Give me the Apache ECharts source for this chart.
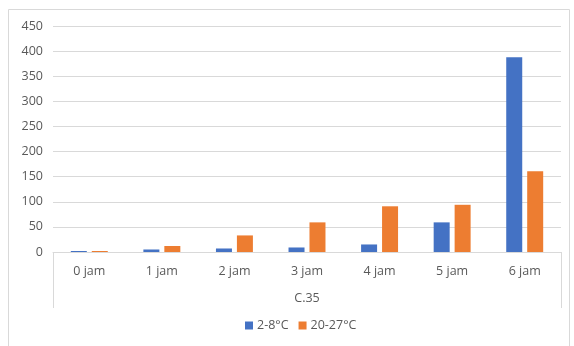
<!DOCTYPE html>
<html>
<head>
<meta charset="utf-8">
<script src="https://cdn.jsdelivr.net/npm/echarts@6/dist/echarts.min.js"></script>
<style>html,body{margin:0;padding:0;background:#fff}#c{width:574px;height:346px}</style>
</head>
<body>
<div id="c"></div>
<script>
const categories = ['0 jam','1 jam','2 jam','3 jam','4 jam','5 jam','6 jam'];
const groupLabel = ['C.35'];
const seriesNames = ['2-8°C','20-27°C'];
const cold = [2, 5, 7, 9, 15, 59, 388];
const warm = [2, 12, 33, 59, 91, 94, 161];

const font = 'Open Sans, Noto Sans, sans-serif';
const txt = '#595959';
const chart = echarts.init(document.getElementById('c'));
chart.setOption({
  animation: false,
  color: ['#4472C4', '#ED7D31'],
  grid: { left: 53, right: 13, top: 26, bottom: 94 },
  graphic: [{
    type: 'rect', shape: { x: 8.5, y: 9.5, width: 561, height: 360 },
    style: { fill: 'none', stroke: '#d9d9d9', lineWidth: 1 }, silent: true
  }],
  legend: {
    data: seriesNames, bottom: 9, left: 240,
    itemWidth: 8, itemHeight: 8, itemGap: 10, icon: 'rect',
    textStyle: { color: txt, fontSize: 12.5, fontFamily: font, padding: [0,0,0,-1] }
  },
  xAxis: [{
    type: 'category', data: categories,
    axisLine: { lineStyle: { color: '#d9d9d9' } },
    axisTick: { show: false },
    axisLabel: { color: txt, fontSize: 12.5, fontFamily: font, margin: 13 }
  }, {
    type: 'category', data: groupLabel, position: 'bottom',
    axisLine: { show: false },
    axisTick: { show: true, length: 56, lineStyle: { color: '#d9d9d9' } },
    axisLabel: { color: txt, fontSize: 12.5, fontFamily: font, margin: 40 }
  }],
  yAxis: {
    type: 'value', min: 0, max: 450, interval: 50,
    axisLine: { show: false }, axisTick: { show: false },
    splitLine: { lineStyle: { color: '#d9d9d9' } },
    axisLabel: { color: txt, fontSize: 12.5, fontFamily: font, margin: 10 }
  },
  series: [
    { name: seriesNames[0], type: 'bar', data: cold, barWidth: 16, barGap: '31%' },
    { name: seriesNames[1], type: 'bar', data: warm, barWidth: 16, barGap: '31%' }
  ]
});
</script>
</body>
</html>
